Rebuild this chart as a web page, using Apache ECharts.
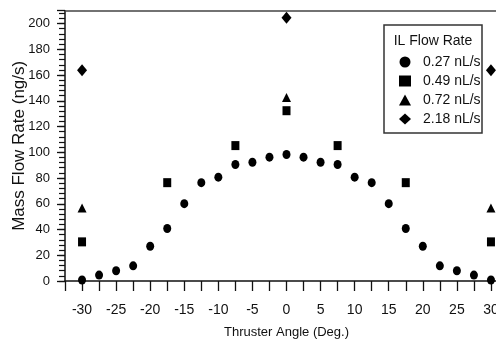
<!DOCTYPE html>
<html>
<head>
<meta charset="utf-8">
<script src="https://cdn.jsdelivr.net/npm/echarts@6/dist/echarts.min.js"></script>
<style>
html,body{margin:0;padding:0;background:#fff;}
#chart{width:496px;height:341px;}
</style>
</head>
<body>
<div id="chart"></div>
<script>
// Data
const seriesNames = ['0.27 nL/s', '0.49 nL/s', '0.72 nL/s', '2.18 nL/s'];
const angles027 = [-30, -27.5, -25, -22.5, -20, -17.5, -15, -12.5, -10, -7.5, -5, -2.5, 0, 2.5, 5, 7.5, 10, 12.5, 15, 17.5, 20, 22.5, 25, 27.5, 30];
const values027 = [0.8, 4.6, 8, 11.8, 27, 40.8, 60.1, 76.4, 80.7, 90.5, 92.3, 96.2, 98.3, 96.2, 92.3, 90.5, 80.7, 76.4, 60.1, 40.8, 27, 11.8, 8, 4.6, 0.8];
const angles049 = [-30, -17.5, -7.5, 0, 7.5, 17.5, 30];
const values049 = [30.4, 76.4, 105.2, 132.3, 105.2, 76.4, 30.4];
const angles072 = [-30, 0, 30];
const values072 = [56.7, 142.6, 56.7];
const angles218 = [-30, 0, 30];
const values218 = [163.8, 204.5, 163.8];
const xTickLabels = [-30, -25, -20, -15, -10, -5, 0, 5, 10, 15, 20, 25, 30];
const yTickLabels = [0, 20, 40, 60, 80, 100, 120, 140, 160, 180, 200];

const FONT = 'Liberation Sans, Arial, Helvetica, sans-serif';
const pair = (xs, ys) => xs.map((x, i) => [x, ys[i]]);

const chart = echarts.init(document.getElementById('chart'), null, {renderer: 'canvas'});
const symbols = ['circle', 'rect', 'triangle', 'diamond'];
const sizes = [[8, 9], [8, 9], [9, 9], [10, 12]];
const datas = [pair(angles027, values027), pair(angles049, values049), pair(angles072, values072), pair(angles218, values218)];

chart.setOption({
  animation: false,
  backgroundColor: '#fff',
  grid: {left: 65, right: -12, top: 10.7, bottom: 60, containLabel: false, outerBoundsMode: 'none'},
  xAxis: [{
    type: 'value', position: 'bottom', min: -32.5, max: 32.5, interval: 2.5,
    name: 'Thruster Angle (Deg.)', nameLocation: 'middle', nameGap: 45, nameMoveOverlap: false,
    nameTextStyle: {fontFamily: FONT, fontSize: 13, color: '#111'},
    axisLine: {show: true, onZero: false, lineStyle: {color: '#111', width: 1.5}},
    axisTick: {show: true, inside: false, length: 10, lineStyle: {color: '#111', width: 1.3}},
    axisLabel: {
      margin: 22, fontFamily: FONT, fontSize: 14, color: '#111',
      formatter: v => (xTickLabels.indexOf(Number(v)) >= 0 ? String(v) : '')
    },
    splitLine: {show: false}
  }, {
    type: 'value', position: 'top', min: -32.5, max: 32.5,
    axisLine: {show: true, onZero: false, lineStyle: {color: '#444', width: 1.6}},
    axisTick: {show: false}, axisLabel: {show: false}, splitLine: {show: false}
  }],
  yAxis: [{
    type: 'value', position: 'left', min: 0, max: 210, interval: 4,
    name: 'Mass Flow Rate (ng/s)', nameLocation: 'middle', nameGap: 37, nameMoveOverlap: false,
    nameTextStyle: {fontFamily: FONT, fontSize: 17, color: '#111'},
    axisLine: {show: true, onZero: false, lineStyle: {color: '#111', width: 1.5}},
    axisTick: {show: true, length: 6, lineStyle: {color: '#111', width: 1.2}},
    axisLabel: {
      margin: 15, fontFamily: FONT, fontSize: 13, color: '#111',
      showMaxLabel: false,
      formatter: v => (yTickLabels.indexOf(Number(v)) >= 0 ? String(v) : '')
    },
    splitLine: {show: false}
  }, {
    type: 'value', position: 'left', min: 0, max: 210, interval: 20,
    axisLine: {show: false, onZero: false},
    axisTick: {show: true, length: 8, lineStyle: {color: '#111', width: 1.3}},
    axisLabel: {show: false},
    splitLine: {show: false}
  }],
  legend: {
    orient: 'vertical', left: 399, top: 55, padding: 0,
    itemWidth: 12, itemHeight: 11, itemGap: 5,
    textStyle: {fontFamily: FONT, fontSize: 14, color: '#111', padding: [0, 0, 0, 7]},
    data: seriesNames.map((n, i) => ({name: n, icon: symbols[i]})),
    selectedMode: false
  },
  graphic: [
    {type: 'rect', shape: {x: 384, y: 25, width: 98, height: 108}, style: {fill: '#fff', stroke: '#333', lineWidth: 1.5}, z: 1},
    {type: 'text', x: 433, y: 41, style: {text: 'IL Flow Rate', font: '14px ' + FONT, fill: '#111', align: 'center', verticalAlign: 'middle'}, z: 5}
  ],
  series: seriesNames.map((n, i) => ({
    name: n, type: 'scatter', xAxisIndex: 0, yAxisIndex: 0,
    symbol: symbols[i], symbolSize: sizes[i],
    itemStyle: {color: '#000', opacity: 1},
    data: datas[i], z: 3
  }))
});
</script>
</body>
</html>
